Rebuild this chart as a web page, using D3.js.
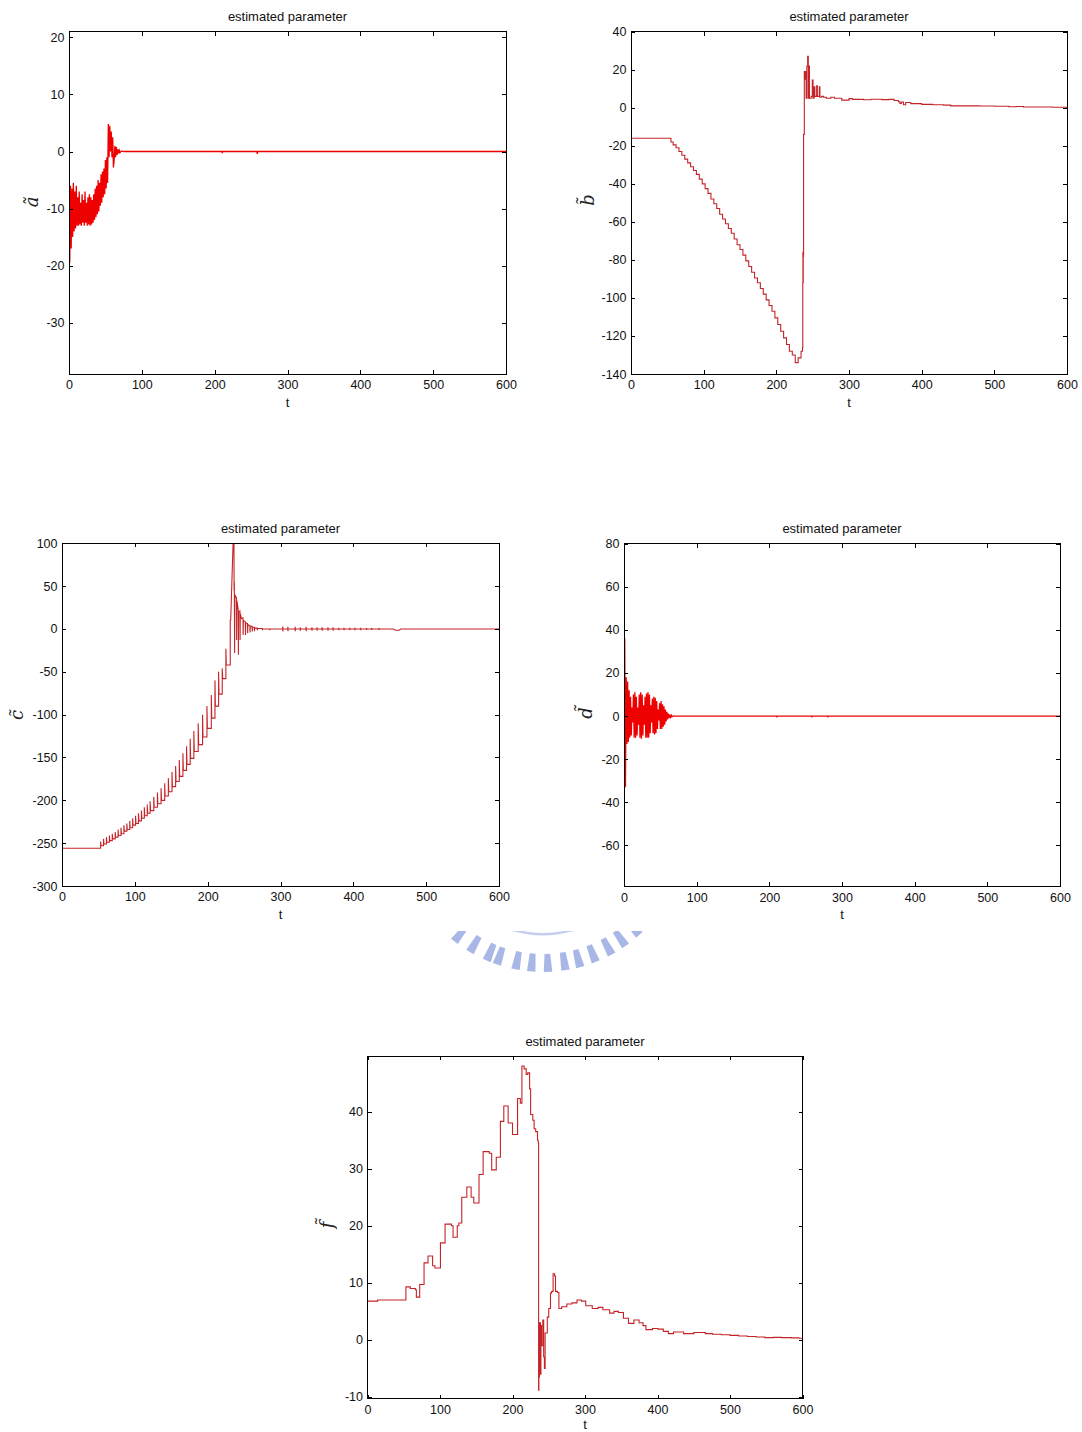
<!DOCTYPE html>
<html><head><meta charset="utf-8">
<script src="https://cdn.jsdelivr.net/npm/d3@7"></script>
<style>
body{margin:0;background:#fff}
svg{display:block}
.tick text{font-family:"Liberation Sans",Arial,sans-serif;font-size:12.5px;fill:#111}
.tick line{stroke:#000}
</style>
</head><body>
<svg id="c" width="1082" height="1432"></svg>
<script>
// ---------- shared ----------
const xTicks=[0,100,200,300,400,500,600];
const titleText="estimated parameter";
const xLabelText="t";

// ---------- panel a : ã ----------
const yTicksA=[-30,-20,-10,0,10,20];
const aData=[[0,2.5],[1,-19.5],[2,-6],[3,-17],[4,-6.5],[5,-15],[6,-5.5],[7,-14],[8,-7],[9,-13.5],
[10,-6],[11,-13],[12,-8],[13,-13],[14,-7],[15,-12.8],[16,-9],[17,-13],[18,-7.5],[19,-12.5],
[20,-8.5],[21,-13],[22,-7],[23,-12.5],[24,-9],[25,-13],[26,-8],[27,-12.8],[28,-7.5],[29,-13],
[30,-8],[31,-12.8],[32,-8.5],[33,-12.5],[34,-7.5],[35,-12],[36,-6.5],[37,-11.5],[38,-6],[39,-11],
[40,-5],[41,-10.5],[42,-5.5],[43,-9.5],[44,-4],[45,-9],[46,-3.5],[47,-8],[48,-3],[49,-7.5],
[50,-1.5],[51,-6.5],[52,-1],[53,-5.5],[54,4.8],[55,-1],[56,4.5],[57,0],[58,3.5],[59,-1],
[60,2.5],[61,-2.8],[62,-1.5],[63,1],[64,-1],[65,0.8],[66,-0.6],[67,0.4],[68,-0.3],[69,0.2],
[70,-0.2],[72,0.1],[75,0],[210,0],[210.5,-0.3],[211,0],[258,0],[258.5,-0.4],[259,0],[600,0]];

// ---------- panel b : b̃ ----------
const yTicksB=[-140,-120,-100,-80,-60,-40,-20,0,20,40];
const bData=[[0,-16],[55,-18],[58,-19.5],[62,-21],[66,-23],[70,-25],[74,-27],[78,-29],[82,-31],[86,-33],
[90,-35],[94,-37.5],[98,-40],[102,-42.5],[106,-45],[110,-48],[114,-50.5],[118,-53],[122,-56],[126,-58.5],
[130,-61],[134,-63.5],[138,-66],[142,-69],[146,-72],[150,-74.5],[154,-77.5],[158,-80.5],[162,-83.5],[166,-86.5],
[170,-89.5],[174,-92],[178,-95],[182,-98],[186,-101],[190,-104],[194,-107],[198,-110.5],[202,-114],[206,-117.5],
[210,-121],[214,-124.5],[218,-128],[222,-130],[226,-134],[230,-131.5],[234,-128],[236,-126],[236.4,-92],[236.6,-76],
[236.8,-92],[237,-78],[237.5,-14],[238.5,19],[239.4,15],[240,19],[241,5],[242,22],[243.1,27],[244,5],
[245,22],[245.6,5],[248,6],[249.5,14.6],[250.5,5],[252,11],[253,6],[255.5,11.5],[256.5,6],[259.2,11],
[260,5.5],[262.4,6],[265,5.5],[269,5],[275,5.5],[280,5],[290,4],[300,4.8],[305,4.4],[320,4.2],
[330,4.5],[345,4.3],[355,4.4],[362,3.8],[368,3.2],[370,2.3],[372,3],[375,1.6],[378,2.8],[385,2.2],
[400,1.8],[415,1.6],[430,1.4],[440,1],[460,1],[480,0.9],[500,0.8],[520,0.5],[530,0.7],[540,0.4],
[560,0.4],[580,0.3],[600,0.2]];

// ---------- panel c : c̃ ----------
const yTicksC=[-300,-250,-200,-150,-100,-50,0,50,100];
const cStart=[0,-256];
// [t, overshoot top, level after step]
const cSteps=[[53,-248,-253],[57,-245,-251],[61,-243,-249],[65,-241,-247],[69,-239,-245],[73,-237,-243],
[77,-234,-241],[81,-232,-239],[85,-229,-236],[89,-227,-234],[93,-224,-232],[97,-221,-229],[101,-218,-227],
[105,-215,-224],[109,-212,-221],[113,-208,-218],[117,-205,-215],[121,-201,-212],[126,-196,-208],[131,-191,-204],
[136,-186,-200],[141,-180,-195],[146,-174,-190],[151,-167,-184],[156,-160,-178],[161,-153,-172],[166,-145,-165],
[171,-137,-158],[176,-128,-151],[181,-119,-143],[187,-110,-135],[193,-100,-126],[199,-90,-116],[205,-77,-104],
[210,-60,-90],[215,-50,-76],[220,-46,-58],[225,-23,-42],[231,11,10]];
const cOsc=[[236,130],[236.3,45],[236.6,55],[237,-28],[237.4,40],[239.6,36],[239.8,-13],[240.2,33],[242,22],
[242.2,-30],[242.5,20],[244.3,21],[244.5,-13],[244.8,18],[246.5,12],[248.5,13],[248.7,-7],[249,10],[251.7,8.5],
[251.9,-7],[252.2,7],[254.7,6.5],[254.9,-5],[255.2,5],[258,4],[258.2,-4],[258.5,3],[261,3],[261.2,-3],[261.5,2],
[264,2],[264.2,-2.5],[264.5,1],[268,1],[268.2,-1.5],[268.5,0.5],[275,0.5],[275.2,-1.5],[275.5,0],[285,0],
[285.2,-1.5],[285.5,0],[300,0]];
// small spikes on the settled part: [t, amplitude]
const cTicks=[[303,3],[310,2.5],[320,2.5],[327,2],[335,2.5],[343,2],[350,2],[357,2],[365,2],[372,2],
[380,1.5],[387,1.5],[395,1.5],[402,1.5],[410,1.5],[418,1.2],[425,1.2],[435,1]];
const cTail=[[455,0],[458,-1.5],[463,-1.5],[465,0],[600,0]];

// ---------- panel d : d̃ ----------
const yTicksD=[-60,-40,-20,0,20,40,60,80];
const dData=[[0,0],[1,36],[2,-33],[3,18],[4,-13],[5,16],[6,-12],[7,12],[8,-10],[9,9],
[10,-9],[11,4],[12,-3],[13,10],[14,-10],[15,11],[16,-10],[17,9],[18,-9],[19,4],
[20,-4],[21,10],[22,-10],[23,11],[24,-10.5],[25,10],[26,-9],[27,5],[28,-4],[29,9],
[30,-10],[31,10.5],[32,-10],[33,11],[34,-10],[35,10],[36,-8],[37,5],[38,-3],[39,8],
[40,-8],[41,9],[42,-8.5],[43,8.5],[44,-8],[45,7],[46,-6],[47,3],[48,-2],[49,6],
[50,-6],[51,7],[52,-6],[53,5.5],[54,-5],[55,4.5],[56,-4],[57,3],[58,-2.5],[59,2],
[60,-1.5],[61,1.2],[62,-1],[63,0.7],[64,-0.5],[65,0.4],[66,-0.3],[68,0.1],[70,0],
[210,0],[210.5,-0.3],[211,0],[258,0],[258.5,-0.3],[259,0],[280,0],[280.5,-0.3],[281,0],[600,0]];

// ---------- panel f : f̃ ----------
const yTicksF=[-10,0,10,20,30,40];
const fData=[[0,6.8],[14,7.0],[53,9.3],[59,9.0],[66,8.8],[67.4,7.5],[72,9.7],[78,13.5],[83.5,14.7],[89.8,13],
[93,12.6],[100.6,17],[107,20.3],[115.8,20],[118,18],[123.8,20],[126,20.5],[130,25],[137,26.8],[142.9,25],
[146.6,24],[153.8,29],[159.5,33],[168,32.7],[171.3,29.8],[177.6,32],[183.3,38.3],[188,41],[194,38],[200,36],
[207,42.3],[210.8,41.5],[213,48],[216,47.5],[218.9,46.5],[221,46.8],[223.6,44],[225,39.5],[228,38.5],[229.8,37],
[232,36.5],[234.5,35],[235.5,34.5],[236,-8.8],[236.4,3],[236.8,-6.5],[237.2,3],[237.6,-3],[238,3],[238.6,-6],
[239.2,2.5],[240,-1],[241.8,3.5],[243,-3],[244,-5],[245,1.2],[248,4],[250,5.5],[252.4,8.2],[254,8.5],
[256,11.6],[258,11.2],[259.3,8.5],[262,8.3],[264,5.5],[267.8,5.8],[275,6.3],[282,6.5],[289,7],[295,6.8],
[301,6],[310,5.5],[318,5.7],[324.6,5.3],[334,4.7],[340,5],[346,4.8],[353,3.8],[360,2.9],[367.5,3.5],
[374.6,3.0],[380,2.5],[384,1.8],[393,2],[400.7,1.9],[408,1.5],[415,1.1],[422,1.4],[429,1.4],[436,1.1],
[443,1.1],[450,1.3],[457,1.3],[466,1.1],[476,1.0],[488,0.9],[500,0.8],[512,0.7],[524,0.6],[536,0.5],
[548,0.4],[560,0.45],[571,0.4],[585,0.35],[595,0.3],[600,0.3]];

// ---------- watermark (logo teeth angles, degrees) ----------
const wmAngles=[48,55,61.5,68.5,75,81,88,94.7,101,108.7,113,120.5,128];

// ---------- build c path points from its step data ----------
const cData=[cStart];
let lev=cStart[1];
cSteps.forEach(([t,top,next])=>{cData.push([t,lev],[t,top],[t+0.6,next]);lev=next;});
cOsc.forEach(p=>cData.push(p));
cTicks.forEach(([t,a])=>cData.push([t,0],[t+0.1,a],[t+0.3,-a],[t+0.4,0]));
cTail.forEach(p=>cData.push(p));

const svg=d3.select("#c");

const panels=[
 {id:"a",data:aData,yd:[-39,21],yt:yTicksA,lab:"a\u0303",box:[69,31.7,506,374],col:"#ee0000",sw:1.3,curve:d3.curveLinear,lx:38,ly:202,tl:33},
 {id:"b",data:bData,yd:[-140,40],yt:yTicksB,lab:"b\u0303",box:[631,31.7,1067,374],col:"#c42428",sw:1.1,curve:d3.curveStepAfter,lx:594,ly:200,tl:33},
 {id:"c",data:cData,yd:[-300,100],yt:yTicksC,lab:"c\u0303",box:[62,543.3,499,886],col:"#c42428",sw:1.1,curve:d3.curveLinear,lx:23,ly:715,tl:33},
 {id:"d",data:dData,yd:[-79,80],yt:yTicksD,lab:"d\u0303",box:[624,543.7,1060,886.3],col:"#ee0000",sw:1.3,curve:d3.curveLinear,lx:592,ly:713,tl:33},
 {id:"f",data:fData,yd:[-10.3,49.7],yt:yTicksF,lab:"f\u0303",box:[367.5,1056.3,802.5,1398.7],col:"#c42428",sw:1.1,curve:d3.curveStepAfter,lx:333,ly:1225,tl:30.5}
];

function drawPanel(p){
  const [x0,y0,x1,y1]=p.box;
  const x=d3.scaleLinear().domain([0,600]).range([x0,x1]);
  const y=d3.scaleLinear().domain(p.yd).range([y1,y0]);
  const g=svg.append("g");
  const cid="clip_"+p.id;
  svg.append("clipPath").attr("id",cid).append("rect")
     .attr("x",x0).attr("y",y0).attr("width",x1-x0).attr("height",y1-y0);
  g.append("path").datum(p.data).attr("clip-path",`url(#${cid})`)
   .attr("fill","none").attr("stroke",p.col).attr("stroke-width",p.sw)
   .attr("d",d3.line().x(d=>x(d[0])).y(d=>y(d[1])).curve(p.curve));
  const ax=(gen,tr)=>g.append("g").attr("transform",tr).attr("shape-rendering","crispEdges")
       .call(gen).call(s=>s.select(".domain").remove());
  const fmt=d=>String(d);
  ax(d3.axisBottom(x).tickValues(xTicks).tickSizeInner(-4).tickSizeOuter(0).tickPadding(6.5).tickFormat(fmt),`translate(0,${y1})`);
  ax(d3.axisTop(x).tickValues(xTicks).tickSizeInner(-4).tickSizeOuter(0).tickFormat(""),`translate(0,${y0})`);
  ax(d3.axisLeft(y).tickValues(p.yt).tickSizeInner(-4).tickSizeOuter(0).tickPadding(4.5).tickFormat(fmt),`translate(${x0},0)`);
  ax(d3.axisRight(y).tickValues(p.yt).tickSizeInner(-4).tickSizeOuter(0).tickFormat(""),`translate(${x1},0)`);
  g.append("rect").attr("x",x0).attr("y",y0).attr("width",x1-x0).attr("height",y1-y0)
   .attr("fill","none").attr("stroke","#000").attr("stroke-width",1).attr("shape-rendering","crispEdges");
  g.append("text").attr("x",(x0+x1)/2).attr("y",y0-10.5).attr("text-anchor","middle")
   .attr("font-family","Liberation Sans, Arial, sans-serif").attr("font-size",13).attr("fill","#111").text(titleText);
  g.append("text").attr("x",(x0+x1)/2).attr("y",y1+p.tl).attr("text-anchor","middle")
   .attr("font-family","Liberation Sans, Arial, sans-serif").attr("font-size",13).attr("fill","#111").text(xLabelText);
  g.append("text").attr("transform",`translate(${p.lx},${p.ly}) rotate(-90)`).attr("text-anchor","middle")
   .attr("font-family","DejaVu Serif, Liberation Serif, serif").attr("font-style","italic")
   .attr("font-size",18).attr("fill","#222").text(p.lab);
}
panels.forEach(drawPanel);

// watermark logo fragment
const wm=svg.append("g");
svg.append("clipPath").attr("id","wmclip").append("rect").attr("x",430).attr("y",931).attr("width",240).attr("height",60);
const wg=wm.append("g").attr("clip-path","url(#wmclip)").attr("opacity",0.6);
const cx=543, cy=828, r0=126, r1=144;
const rad=a=>a*Math.PI/180;
wmAngles.forEach(a=>{
  const pts=[[r0,a-1.3],[r1,a-1.7],[r1,a+1.7],[r0,a+1.3]].map(([r,an])=>[cx+r*Math.cos(rad(an)),cy+r*Math.sin(rad(an))]);
  wg.append("path").attr("d","M"+pts.map(p=>p.join(",")).join("L")+"Z").attr("fill","#6f88d4");
});
wg.append("path").attr("d",d3.arc().innerRadius(105).outerRadius(107.5).startAngle(rad(150)).endAngle(rad(210))())
  .attr("transform",`translate(${cx},${cy})`).attr("fill","#9fb0e2");
</script>
</body></html>
